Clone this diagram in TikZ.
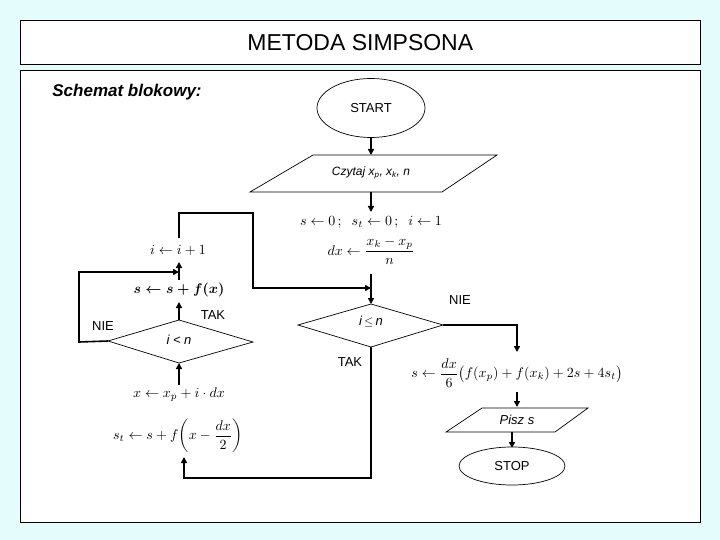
\documentclass[tikz,border=0pt]{standalone}
\usepackage{fontspec}
\setmainfont{Liberation Sans}
\usepackage{amsmath}
\usetikzlibrary{shapes.geometric,arrows.meta}
\definecolor{bgc}{HTML}{E4FCFC}
\begin{document}
\begin{tikzpicture}[x=1pt,y=-1pt,
  ln/.style={line width=1.6pt},
  arr/.style={line width=1.6pt,-{Triangle[length=6pt,width=6pt]}},
  shp/.style={draw,line width=0.7pt,fill=white},
  lab/.style={font=\fontsize{13}{15}\selectfont},
  mth/.style={inner sep=0pt,scale=1.4}]
\fill[bgc] (0,0) rectangle (720,540);
\useasboundingbox (0,0) rectangle (720,540);
\node[draw,fill=white,line width=0.6pt,minimum width=680pt,minimum height=44pt,anchor=north west,font=\fontsize{23}{27}\selectfont] (title) at (20,20) {METODA SIMPSONA};
\draw[fill=white,line width=0.6pt] (20,70) rectangle (700,522);
\node[font=\fontsize{17}{20}\selectfont\bfseries\itshape] (sb) at (127,92) {Schemat blokowy:};
% start
\node[shp,ellipse,minimum width=108pt,minimum height=59pt,lab] (start) at (371,108) {START};
\draw[shp] (313,155) -- (497,155) -- (442,192) -- (250,192) -- cycle;
\node[lab] (czy) at (371,173) {\itshape\fontsize{12}{14}\selectfont Czytaj x\textsubscript{p}, x\textsubscript{k}, n};
\coordinate (czyb) at (371,192);
\draw[arr] (start.south) -- (371,155);
\node[mth] (init) at (371,222) {$s\leftarrow 0\,;\;\; s_t\leftarrow 0\,;\;\; i\leftarrow 1$};
\node[mth] (dx) at (371,251) {$dx\leftarrow\dfrac{x_k-x_p}{n}$};
\draw[arr] (czyb) -- (371,212);
% diamond i<=n
\coordinate (d2t) at (371,304); \coordinate (d2b) at (371,347);
\coordinate (d2l) at (298,325); \coordinate (d2r) at (443,325);
\draw[shp] (d2t) -- (d2r) -- (d2b) -- (d2l) -- cycle;
\node[lab] (d2) at (371,322) {\itshape i\,$\le$\,n};
\draw[arr] (371,274) -- (371,304);
\node[lab] (nie2) at (460,300) {NIE};
\node[lab] (tak2) at (350,362) {TAK};
\draw[arr] (d2r) -- (517,325) -- (517,352);
\node[mth] (sfin) at (517,373) {$s\leftarrow\dfrac{dx}{6}\big(f(x_p)+f(x_k)+2s+4s_t\big)$};
\draw[arr] (517,392) -- (517,407);
\draw[shp] (482,408) -- (588,408) -- (555,432) -- (446,432) -- cycle;
\node[lab] (pisz) at (517,420) {\itshape Pisz s};
\draw[arr] (512,432) -- (512,448);
\node[shp,ellipse,minimum width=106pt,minimum height=38pt,lab] (stop) at (512,466) {STOP};
% diamond i<n
\coordinate (d1t) at (179,320); \coordinate (d1b) at (179,363);
\coordinate (d1l) at (108,341); \coordinate (d1r) at (253,342);
\draw[shp] (d1t) -- (d1r) -- (d1b) -- (d1l) -- cycle;
\node[lab] (d1) at (179,340) {\itshape i < n};
\node[lab] (tak1) at (213,315) {TAK};
\node[lab] (nie1) at (103,326) {NIE};
\node[mth] (sx) at (179,290) {$\boldsymbol{s\leftarrow s+f(x)}$};
\node[mth] (ii) at (178,250) {$i\leftarrow i+1$};
\draw[arr] (d1t) -- (179,302);
\draw[arr] (179,280) -- (179,262);
\draw[arr] (d1l) -- (79,342) -- (79,272) -- (179,272);
\draw[arr] (179,238) -- (179,213) -- (253,213) -- (253,288) -- (371,288);
\node[mth] (xx) at (179,395) {$x\leftarrow x_p+i\cdot dx$};
\node[mth] (st) at (178,436) {$s_t\leftarrow s+f\!\left(x-\dfrac{dx}{2}\right)$};
\draw[arr] (179,385) -- (d1b);
\draw[arr] (d2b) -- (371,478) -- (184,478) -- (184,457);
\end{tikzpicture}
\end{document}
